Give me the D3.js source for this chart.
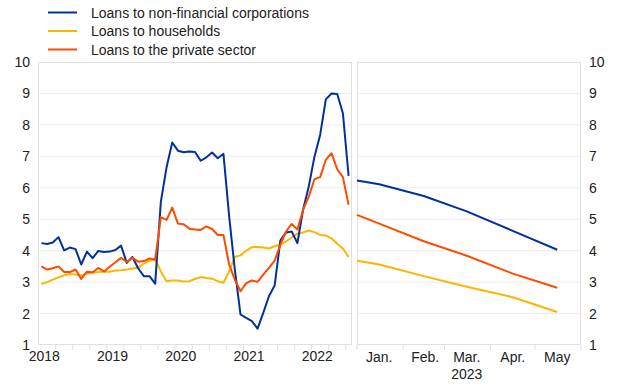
<!DOCTYPE html>
<html><head><meta charset="utf-8">
<script src="https://cdn.jsdelivr.net/npm/d3@7"></script>
<style>
html,body{margin:0;padding:0;background:#fff;}
svg{display:block;font-family:"Liberation Sans",Arial,sans-serif;}
</style></head>
<body><svg id="c" width="620" height="387"></svg>
<script>
// ---- data ----
const seriesNames = ["Loans to non-financial corporations","Loans to households","Loans to the private sector"];
const seriesColors = ["#003299","#FFB400","#FF4B00"];
// Left panel: monthly, Jan 2018 - Jul 2022
const histMonths = d3.timeMonth.range(new Date(2018,0,1), new Date(2022,7,1));
const nfc = [4.24,4.21,4.26,4.43,4.01,4.10,4.05,3.56,3.97,3.76,3.99,3.96,
  3.97,4.02,4.16,3.61,3.80,3.44,3.19,3.19,2.95,5.56,6.65,7.44,
  7.18,7.13,7.15,7.14,6.86,6.97,7.12,6.94,7.08,5.10,3.40,1.97,
  1.86,1.76,1.52,2.02,2.55,2.89,4.32,4.58,4.61,4.24,5.30,6.04,
  6.99,7.68,8.81,9.00,8.98,8.37,6.38];
const hh = [2.94,3.00,3.08,3.15,3.22,3.26,3.24,3.21,3.27,3.30,3.32,3.34,
  3.33,3.37,3.38,3.40,3.43,3.46,3.59,3.68,3.71,3.34,3.03,3.05,
  3.05,3.02,3.03,3.10,3.16,3.13,3.11,3.03,2.98,3.34,3.80,3.85,
  4.00,4.11,4.12,4.10,4.07,4.14,4.19,4.29,4.42,4.54,4.58,4.64,
  4.59,4.50,4.48,4.39,4.22,4.07,3.80];
const ps = [3.50,3.40,3.44,3.50,3.32,3.32,3.40,3.10,3.33,3.31,3.45,3.34,
  3.49,3.63,3.77,3.64,3.77,3.65,3.67,3.75,3.72,5.07,4.98,5.37,
  4.86,4.84,4.70,4.67,4.66,4.77,4.69,4.50,4.50,3.56,3.08,2.71,
  2.97,3.05,3.01,3.24,3.45,3.68,4.19,4.61,4.85,4.67,5.30,5.72,
  6.27,6.34,6.89,7.10,6.59,6.34,5.46];
const yearLabels = ["2018","2019","2020","2021","2022"];
// Right panel: 2023
const projDates = [new Date(2023,0,1),new Date(2023,0,16),new Date(2023,1,15),new Date(2023,2,16),new Date(2023,3,16),new Date(2023,4,16)];
const projNfc = [6.23,6.11,5.74,5.25,4.63,4.03];
const projHh  = [3.68,3.56,3.19,2.85,2.52,2.05];
const projPs  = [5.14,4.86,4.30,3.84,3.27,2.82];
const monthLabels = ["Jan.","Feb.","Mar.","Apr.","May"];
const yTicks = [1,2,3,4,5,6,7,8,9,10];

// ---- layout ----
const svg = d3.select("#c");
const yTop = 62, yBot = 345;
const L = {x0:38, x1:352}, R = {x0:357, x1:581};
const y = d3.scaleLinear().domain([1,10]).range([yBot, yTop]);
const xL = d3.scaleLinear().domain([-0.6, histMonths.length - 0.4]).range([L.x0, L.x1]);
const xR = d3.scaleTime().domain([new Date(2023,0,1), new Date(2023,5,1)]).range([R.x0, R.x1]);
const gridCol = "#ececec", frameCol = "#e0e0e0", textCol = "#222";

function panel(x0,x1){
  const g = svg.append("g");
  g.selectAll("line.grid").data(yTicks.slice(1,-1)).join("line")
    .attr("x1",x0).attr("x2",x1).attr("y1",d=>y(d)).attr("y2",d=>y(d))
    .attr("stroke",gridCol).attr("stroke-width",1);
  g.append("rect").attr("x",x0+0.5).attr("y",yTop+0.5).attr("width",x1-x0-1).attr("height",yBot-yTop-1)
    .attr("fill","none").attr("stroke",frameCol).attr("stroke-width",1);
}
panel(L.x0,L.x1);
panel(R.x0,R.x1);

// y axes
const yAxL = d3.axisLeft(y).tickValues(yTicks).tickSize(0).tickPadding(0);
svg.append("g").attr("transform","translate(30,0)").call(yAxL)
  .call(g=>g.select(".domain").remove())
  .selectAll("text").attr("font-size",14).attr("fill",textCol).attr("font-family","Liberation Sans, Arial, sans-serif");
const yAxR = d3.axisRight(y).tickValues(yTicks).tickSize(0).tickPadding(0);
svg.append("g").attr("transform","translate(589,0)").call(yAxR)
  .call(g=>g.select(".domain").remove())
  .selectAll("text").attr("font-size",14).attr("fill",textCol).attr("font-family","Liberation Sans, Arial, sans-serif");

// x ticks (faint)
const qIdx = d3.range(0, histMonths.length+1, 3).map(i=>i-0.5).filter(v=>xL(v)>L.x0+1 && xL(v)<L.x1-1);
svg.append("g").selectAll("line").data(qIdx).join("line")
  .attr("x1",d=>xL(d)).attr("x2",d=>xL(d)).attr("y1",yBot).attr("y2",yBot+5)
  .attr("stroke",frameCol);
const mB = d3.timeMonth.range(new Date(2023,0,1), new Date(2023,5,2));
svg.append("g").selectAll("line").data(mB).join("line")
  .attr("x1",d=>xR(d)).attr("x2",d=>xR(d)).attr("y1",yBot).attr("y2",yBot+5)
  .attr("stroke",frameCol);

// x labels left
svg.append("g").selectAll("text").data(yearLabels).join("text")
  .attr("x",(d,i)=>xL(i*12+0.5)).attr("y",361).attr("text-anchor","middle")
  .attr("font-size",14).attr("fill",textCol).text(d=>d);
// x labels right
svg.append("g").selectAll("text").data(monthLabels).join("text")
  .attr("x",(d,i)=>xR(new Date(2023,i,16))).attr("y",362).attr("text-anchor","middle")
  .attr("font-size",14).attr("fill",textCol).text(d=>d);
svg.append("text").attr("x",xR(new Date(2023,2,16))).attr("y",379).attr("text-anchor","middle")
  .attr("font-size",14).attr("fill",textCol).text("2023");

// lines
const lineL = d3.line().x((d,i)=>xL(i)).y(d=>y(d));
const lineR = d3.line().x((d,i)=>xR(projDates[i])).y(d=>y(d));
const hist = [nfc, hh, ps];
const proj = [projNfc, projHh, projPs];
const order = [1,0,2];
order.forEach(k=>{
  svg.append("path").attr("d",lineL(hist[k])).attr("fill","none")
    .attr("stroke",seriesColors[k]).attr("stroke-width",2).attr("stroke-linejoin","round");
});
order.forEach(k=>{
  svg.append("path").attr("d",lineR(proj[k])).attr("fill","none")
    .attr("stroke",seriesColors[k]).attr("stroke-width",2).attr("stroke-linejoin","round");
});

// legend
const lg = svg.append("g");
seriesNames.forEach((n,i)=>{
  const yy = 12.5 + i*18.5;
  lg.append("line").attr("x1",48).attr("x2",77).attr("y1",yy).attr("y2",yy)
    .attr("stroke",seriesColors[i]).attr("stroke-width",2);
  lg.append("text").attr("x",91).attr("y",yy+5).attr("font-size",14).attr("fill",textCol).text(n);
});
</script></body></html>
